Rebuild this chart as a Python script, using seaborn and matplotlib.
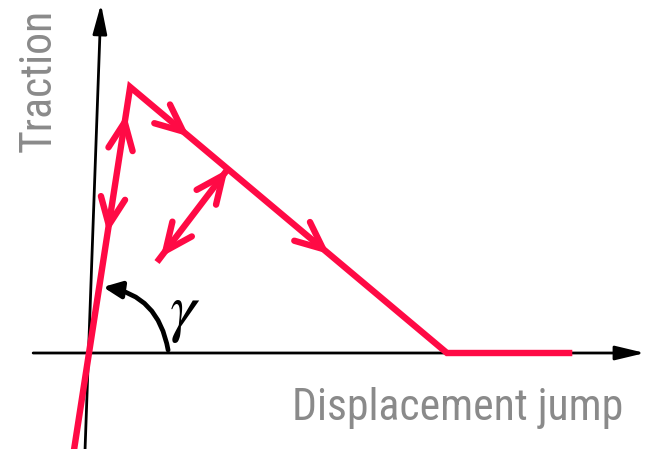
import numpy as np
import pandas as pd
import matplotlib
matplotlib.use("Agg")
import matplotlib.pyplot as plt
from matplotlib import font_manager
from matplotlib.patches import FancyArrowPatch
import seaborn as sns

# Bilinear cohesive traction-separation law (normalised units)
delta_peak, t_peak = 0.115, 1.0          # damage onset
delta_fail = 1.0                          # full separation
delta_end = 1.35                          # end of drawn open-crack branch
delta_pen = -0.045                        # penalty branch drawn into compression

# Elastic unloading/reloading branch (towards the origin)
unload_top = (0.388, 0.692)
unload_bottom = (0.19, 0.342)

# Chevrons: (position, direction) along the branches
chev_main = [0.263, 0.654]                # delta on the softening branch
chev_rise = [(0.868, +1), (0.481, -1)]    # traction on the elastic branch, up/down
chev_unload = [(0.93, +1), (0.12, -1)]    # fraction along unloading branch

axis_x = (-0.156, 1.553)
axis_y = ((-0.011, -0.361), (0.0335, 1.312))

RED = "#ff0a45"
GRAY = "#8a8a8a"

sns.set_theme(style="white")
names = {f.name for f in font_manager.fontManager.ttflist}
label_font, label_size = "Liberation Sans", 28
for cand, size in (("Liberation Sans Narrow", 33), ("Roboto Condensed", 31.5), ("Arial Narrow", 33)):
    if cand in names:
        label_font, label_size = cand, size
        break
plt.rcParams["mathtext.fontset"] = "stix"

fig = plt.figure(figsize=(6.47, 4.49), dpi=100)
ax = fig.add_axes([0, 0, 1, 1])

k = t_peak / delta_peak
law = pd.DataFrame({
    "delta": [delta_pen, delta_peak, delta_fail, delta_end],
    "traction": [k * delta_pen, t_peak, 0.0, 0.0],
})
unload = pd.DataFrame({
    "delta": [unload_bottom[0], unload_top[0]],
    "traction": [unload_bottom[1], unload_top[1]],
})

sns.lineplot(data=law, x="delta", y="traction", sort=False, estimator=None,
             color=RED, lw=4.6, legend=False, ax=ax, zorder=3,
             solid_capstyle="butt", solid_joinstyle="miter")
sns.lineplot(data=unload, x="delta", y="traction", sort=False, estimator=None,
             color=RED, lw=4.6, legend=False, ax=ax, zorder=3,
             solid_capstyle="butt")
ax.set_xlabel("")
ax.set_ylabel("")
ax.set_xlim(-0.2486, 1.5587)
ax.set_ylim(-0.3609, 1.3271)
ax.set_axis_off()

# Axes arrows
def axis_arrow(p0, p1):
    ax.add_patch(FancyArrowPatch(p0, p1, arrowstyle="-|>,head_length=18,head_width=4.3",
                                 mutation_scale=1, lw=2.0, color="black",
                                 shrinkA=0, shrinkB=0, zorder=1))

axis_arrow((axis_x[0], 0.0), (axis_x[1], 0.0))
axis_arrow(axis_y[0], axis_y[1])

# Open chevrons drawn in display space so their angles stay true
def chevron(tip, direction, length=30, half_angle=24):
    to_disp = ax.transData
    p = to_disp.transform(tip)
    q = to_disp.transform(np.asarray(tip) + np.asarray(direction) * 1e-3)
    d = (q - p) / np.linalg.norm(q - p)
    back = -d
    pts = []
    for s in (+1, -1):
        a = np.deg2rad(s * half_angle)
        rot = np.array([[np.cos(a), -np.sin(a)], [np.sin(a), np.cos(a)]])
        pts.append(p + rot @ back * length)
    inv = to_disp.inverted()
    arm = inv.transform(np.array([pts[0], p, pts[1]]))
    ax.plot(arm[:, 0], arm[:, 1], color=RED, lw=4.6, solid_capstyle="round",
            solid_joinstyle="round", zorder=4)

soft_dir = (delta_fail - delta_peak, -t_peak)
for d in chev_main:
    chevron((d, t_peak * (delta_fail - d) / (delta_fail - delta_peak)), soft_dir)
for t, s in chev_rise:
    chevron((t / k, t), (s * delta_peak, s * t_peak))
ud = np.subtract(unload_top, unload_bottom)
for f, s in chev_unload:
    chevron(tuple(np.add(unload_bottom, f * ud)), tuple(s * ud))

# Angle of the penalty stiffness
ax.add_patch(FancyArrowPatch((0.221, 0.011), (0.039, 0.248),
                             connectionstyle="arc3,rad=0.36",
                             arrowstyle="-|>,head_length=11,head_width=5",
                             mutation_scale=1, lw=3.4, color="black",
                             shrinkA=0, shrinkB=0, zorder=5))
ax.text(0.268, 0.154, r"$\gamma$", fontsize=48, ha="center", va="center", color="black")

ax.text(-0.141, 1.026, "Traction", rotation=90, ha="center", va="center",
        fontsize=label_size, color=GRAY, family=label_font)
ax.text(1.029, -0.252, "Displacement jump", ha="center", va="baseline",
        fontsize=label_size, color=GRAY, family=label_font)

fig.savefig("out.png", dpi=100)
